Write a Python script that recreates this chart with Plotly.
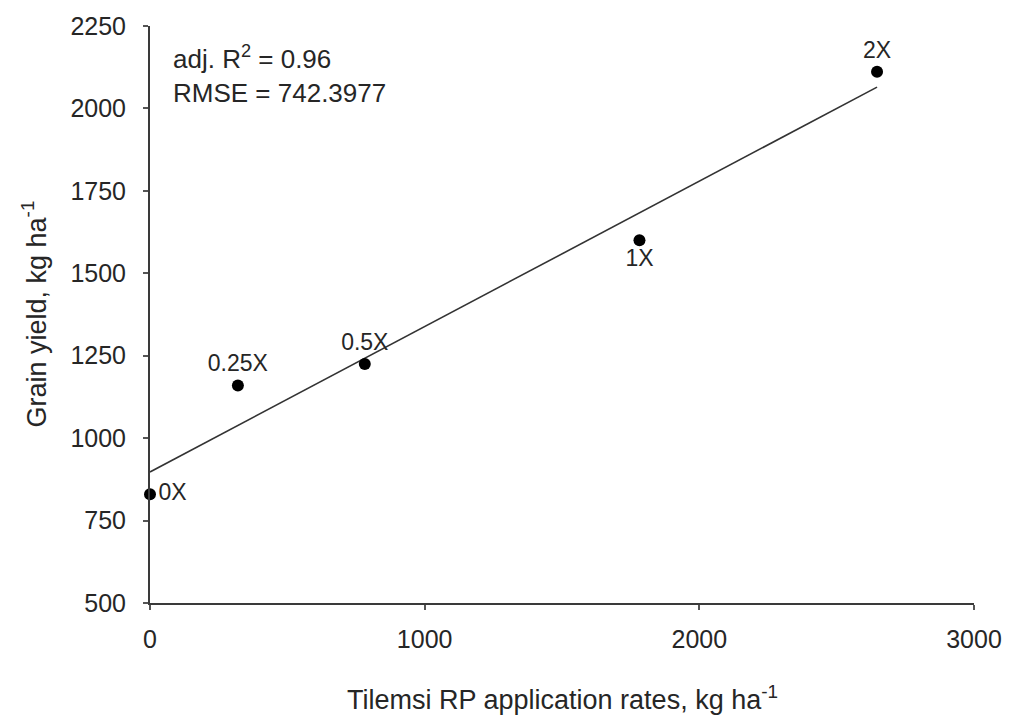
import numpy as np
import plotly.graph_objects as go

# Tilemsi rock phosphate rate vs. grain yield
rate_kg_ha = [0, 320, 782, 1782, 2647]
yield_kg_ha = [830, 1160, 1225, 1600, 2111]
rate_labels = ["0X", "0.25X", "0.5X", "1X", "2X"]
label_positions = ["middle right", "top center", "top center", "bottom center", "top center"]

x_ticks = [0, 1000, 2000, 3000]
y_ticks = [500, 750, 1000, 1250, 1500, 1750, 2000, 2250]

# Least-squares linear fit drawn across the observed range of rates
slope, intercept = np.polyfit(rate_kg_ha, yield_kg_ha, 1)
fit_x = [min(rate_kg_ha), max(rate_kg_ha)]
fit_y = [intercept + slope * v for v in fit_x]

FONT = "Arial, Liberation Sans, sans-serif"
INK = "#262626"

fig = go.Figure()
fig.add_trace(go.Scatter(
    x=fit_x, y=fit_y, mode="lines",
    line=dict(color="#333333", width=1.6),
    hoverinfo="skip", showlegend=False,
))
fig.add_trace(go.Scatter(
    x=rate_kg_ha, y=yield_kg_ha, mode="markers+text",
    marker=dict(color="black", size=12),
    text=rate_labels, textposition=label_positions,
    textfont=dict(family=FONT, size=23, color=INK),
    cliponaxis=False, showlegend=False,
))

axis_common = dict(
    showgrid=False, zeroline=False, showline=True,
    linecolor="#3a3a3a", linewidth=2,
    ticks="outside", ticklen=5, tickwidth=1.5, tickcolor="#555555",
    tickfont=dict(family=FONT, size=25, color=INK),
)
fig.update_xaxes(range=[0, 3000], tickvals=x_ticks, ticklabelstandoff=8, **axis_common)
fig.update_yaxes(range=[500, 2250], tickvals=y_ticks, ticklabelstandoff=12, **axis_common)

fig.add_annotation(
    xref="paper", yref="paper", x=0.026, y=0.978, xanchor="left", yanchor="top",
    text="adj. R<sup>2</sup> = 0.96<br>RMSE = 742.3977", align="left", showarrow=False,
    font=dict(family=FONT, size=26, color=INK),
)
fig.add_annotation(
    xref="paper", yref="paper", x=0, y=0.5, xanchor="center", yanchor="middle",
    xshift=-116, textangle=-90, showarrow=False,
    text="Grain yield, kg ha<sup>-1</sup>",
    font=dict(family=FONT, size=27, color=INK),
)
fig.add_annotation(
    xref="paper", yref="paper", x=0.5, y=0, xanchor="center", yanchor="middle",
    yshift=-95, showarrow=False,
    text="Tilemsi RP application rates, kg ha<sup>-1</sup>",
    font=dict(family=FONT, size=27, color=INK),
)

fig.update_layout(
    width=1014, height=726,
    margin=dict(l=150, r=39, t=22, b=123),
    paper_bgcolor="white", plot_bgcolor="white",
)

fig.write_html("out.html")
